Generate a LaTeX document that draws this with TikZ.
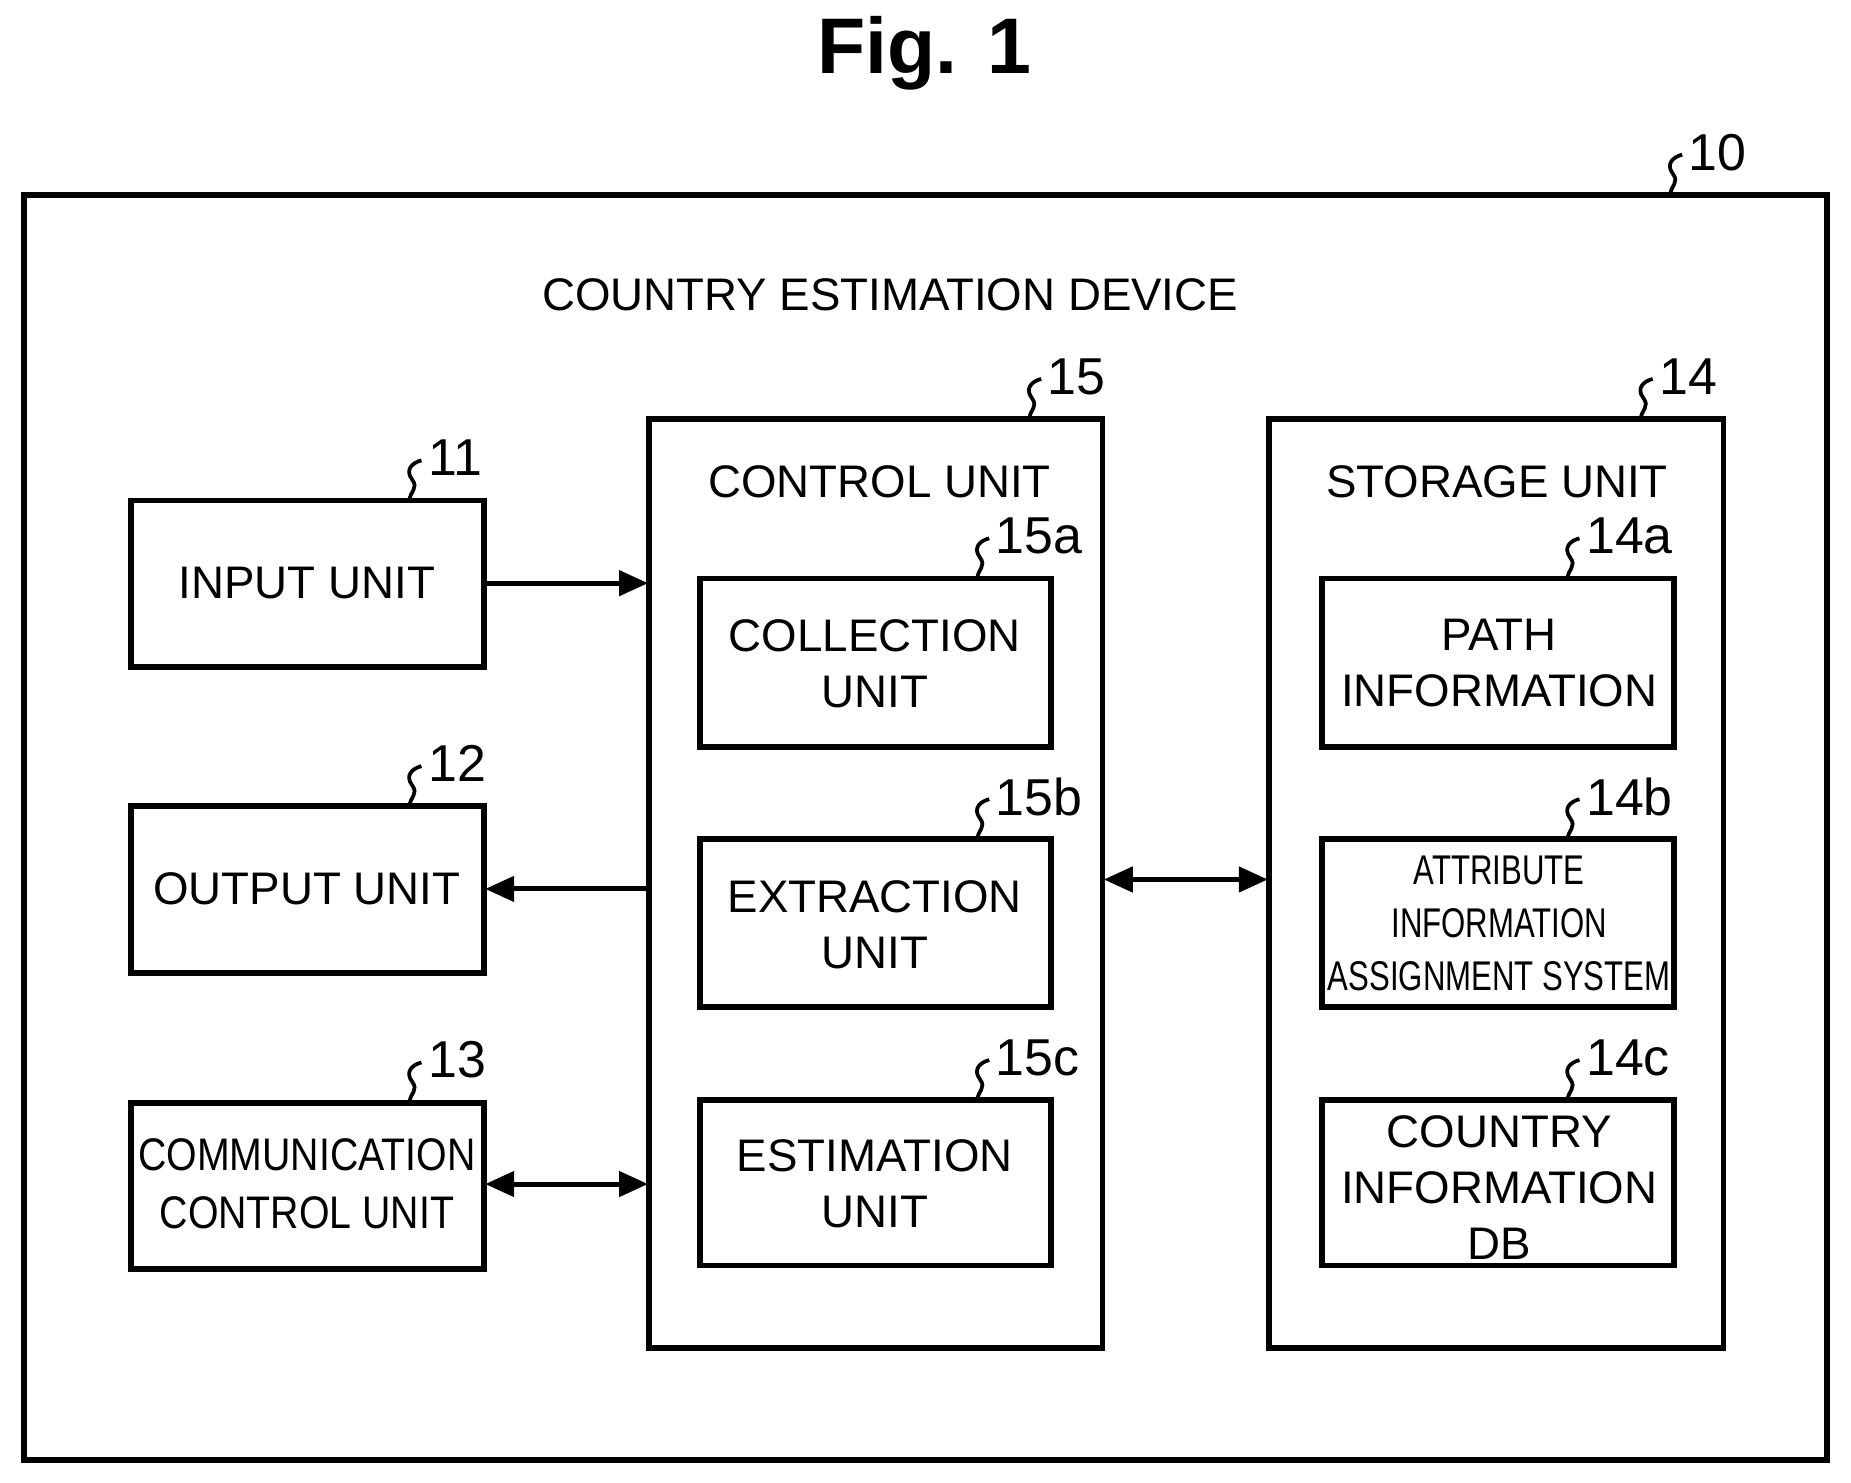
\documentclass[tikz,border=0pt]{standalone}
\usepackage{fontspec}
\setmainfont{Liberation Sans}
\usepackage{graphicx}
\usetikzlibrary{arrows.meta}
\begin{document}
\begin{tikzpicture}[x=0.01cm,y=-0.01cm,
  box/.style={draw,line width=1.4pt},
  lbl/.style={font=\fontsize{11}{13.5}\selectfont,align=center},
  num/.style={font=\fontsize{12.5}{14}\selectfont,anchor=west,inner sep=0pt},
  arr/.style={line width=1.2pt,-{Triangle[length=7pt,width=6pt]}},
  darr/.style={line width=1.2pt,{Triangle[length=7pt,width=6pt]}-{Triangle[length=7pt,width=6pt]}},
  pics/squig/.style args={#1}{code={
    \draw[line width=0.9pt] (0,0) .. controls (0,-8) and (8,-10) .. (2,-18) .. controls (-4,-26) and (2,-32) .. (10,-34);
    \node[num] at (15,-36) {#1};}}]
\useasboundingbox (0,0) rectangle (1568,1256);
\node[font=\bfseries\fontsize{19}{22}\selectfont] (title) at (783,45) {Fig. 1};
\draw[line width=1.4pt] (20,165) rectangle (1548,1237);
\pic at (1415,165) {squig={10}};
\node[lbl] (dev) at (754,250) {COUNTRY ESTIMATION DEVICE};
% control
\draw[box] (550,355) rectangle (934,1142);
\node[lbl] (ctl) at (745,408) {CONTROL UNIT};
\pic at (872,355) {squig={15}};
% storage
\draw[box] (1075,355) rectangle (1460,1142);
\node[lbl] (sto) at (1268,408) {STORAGE UNIT};
\pic at (1390,355) {squig={14}};
% left
\draw[box] (111,424) rectangle (410,565); \node[lbl] (inT) at (260,494) {INPUT UNIT};
\draw[box] (111,683) rectangle (410,824); \node[lbl] (outT) at (260,753) {OUTPUT UNIT};
\draw[box] (111,934) rectangle (410,1075);
\node[lbl,font=\fontsize{11}{14}\selectfont] (comT) at (260,1003) {\scalebox{0.86}[1]{COMMUNICATION}\\\scalebox{0.86}[1]{CONTROL UNIT}};
\pic at (347,424) {squig={11}};
\pic at (347,683) {squig={12}};
\pic at (347,934) {squig={13}};
% inner control
\draw[box] (593,490) rectangle (890,633); \node[lbl] (col) at (741,562) {COLLECTION\\UNIT};
\draw[box] (593,711) rectangle (890,853); \node[lbl] (ext) at (741,783) {EXTRACTION\\UNIT};
\draw[box] (593,932) rectangle (890,1072); \node[lbl] (est) at (741,1003) {ESTIMATION\\UNIT};
\pic at (828,490) {squig={15a}};
\pic at (828,711) {squig={15b}};
\pic at (828,932) {squig={15c}};
% inner storage
\draw[box] (1120,490) rectangle (1418,633); \node[lbl] (path) at (1270,562) {PATH\\INFORMATION};
\draw[box] (1120,711) rectangle (1418,853);
\node[lbl,font=\fontsize{10}{12.8}\selectfont] (attr) at (1270,782) {\scalebox{0.75}[1]{ATTRIBUTE}\\\scalebox{0.75}[1]{INFORMATION}\\\scalebox{0.75}[1]{ASSIGNMENT SYSTEM}};
\draw[box] (1120,932) rectangle (1418,1072); \node[lbl] (cdb) at (1270,1006) {COUNTRY\\INFORMATION\\DB};
\pic at (1328,490) {squig={14a}};
\pic at (1328,711) {squig={14b}};
\pic at (1328,932) {squig={14c}};
% arrows
\coordinate (a1) at (411,494); \coordinate (a2) at (549,494);
\draw[arr] (a1) -- (a2);
\coordinate (b1) at (549,753); \coordinate (b2) at (411,753);
\draw[arr] (b1) -- (b2);
\coordinate (c1) at (411,1003); \coordinate (c2) at (549,1003);
\draw[darr] (c1) -- (c2);
\coordinate (d1) at (935,745); \coordinate (d2) at (1074,745);
\draw[darr] (d1) -- (d2);
\end{tikzpicture}
\end{document}
